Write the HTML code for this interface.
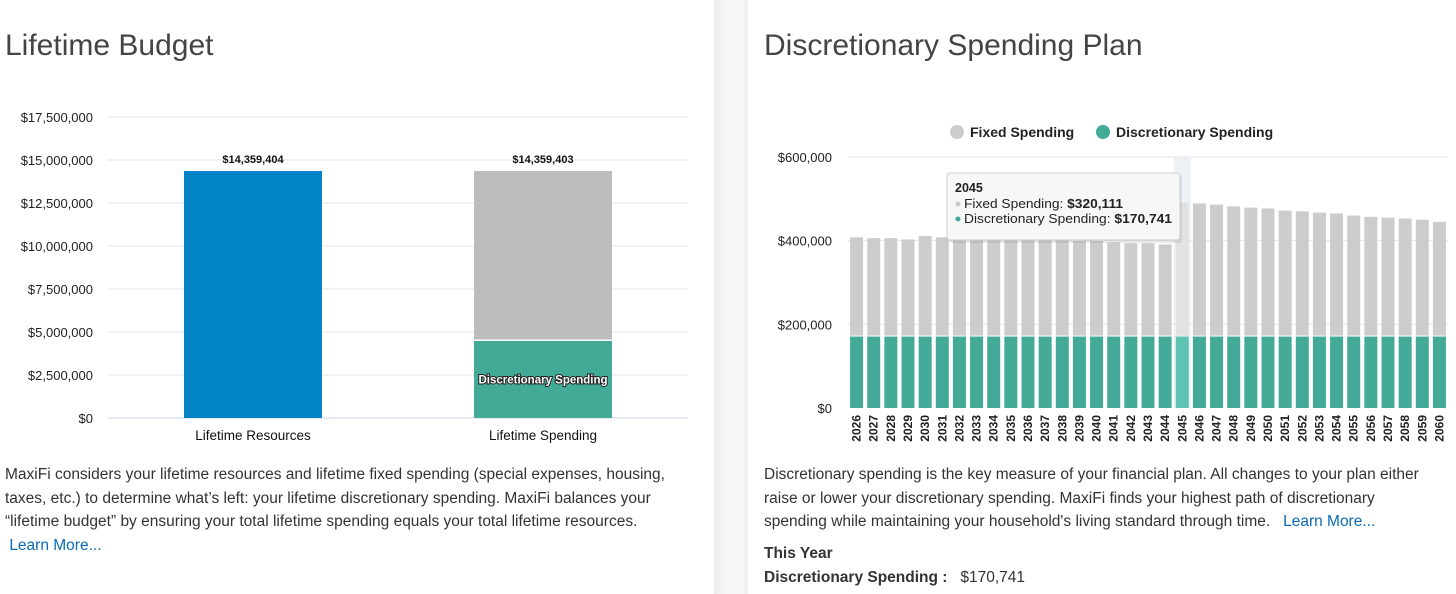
<!DOCTYPE html>
<html><head><meta charset="utf-8"><style>
body{margin:0;width:1456px;height:594px;overflow:hidden;background:#fff;font-family:"Liberation Sans",sans-serif;position:relative}
.divider{position:absolute;left:714px;top:0;width:34px;height:594px;background:linear-gradient(90deg,#ececec,#f7f7f7 30%,#f7f7f7 80%,#efefef)}
.title{position:absolute;top:29px;font-size:30px;color:#444;margin:0;font-weight:normal}
.para{position:absolute;font-size:15.5px;line-height:23.5px;color:#333;margin:0;white-space:nowrap}
.link{color:#0a6ab5}
svg{position:absolute;left:0;top:0}
</style></head><body>
<div class="divider"></div>
<h1 class="title" style="left:5px">Lifetime Budget</h1>
<h1 class="title" style="left:764px">Discretionary Spending Plan</h1>
<svg id="c1" width="714" height="460"></svg>
<svg id="c2" width="1456" height="460" style="pointer-events:none"></svg>
<p class="para" style="left:5px;top:463px">MaxiFi considers your lifetime resources and lifetime fixed spending (special expenses, housing,<br>taxes, etc.) to determine what’s left: your lifetime discretionary spending. MaxiFi balances your<br>“lifetime budget” by ensuring your total lifetime spending equals your total lifetime resources.<br>&nbsp;<span class="link">Learn More...</span></p>
<p class="para" style="left:764px;top:463px">Discretionary spending is the key measure of your financial plan. All changes to your plan either<br>raise or lower your discretionary spending. MaxiFi finds your highest path of discretionary<br>spending while maintaining your household's living standard through time. &nbsp;&nbsp;<span class="link">Learn More...</span></p>
<div class="para" style="left:764px;top:542px;font-weight:bold">This Year</div>
<div class="para" style="left:764px;top:566px"><b>Discretionary Spending :</b> &nbsp;&nbsp;$170,741</div>
<script>
const NS='http://www.w3.org/2000/svg';
function mk(p,t,a,txt){const e=document.createElementNS(NS,t);for(const k in a)e.setAttribute(k,a[k]);if(txt!=null)e.textContent=txt;p.appendChild(e);return e;}
// ---- Chart 1 data
const c1Categories=['Lifetime Resources','Lifetime Spending'];
const c1Resources=[14359404,0];
const c1Fixed=[0,9880000];
const c1Discretionary=[0,4479403];
const c1Totals=['$14,359,404','$14,359,403'];
const c1Ticks=[0,2500000,5000000,7500000,10000000,12500000,15000000,17500000];
const c1TickLabels=['$0','$2,500,000','$5,000,000','$7,500,000','$10,000,000','$12,500,000','$15,000,000','$17,500,000'];
// ---- Chart 2 data
const c2Years=[];for(let y=2026;y<=2060;y++)c2Years.push(String(y));
const c2Discretionary=[170741,170741,170741,170741,170741,170741,170741,170741,170741,170741,170741,170741,170741,170741,170741,170741,170741,170741,170741,170741,170741,170741,170741,170741,170741,170741,170741,170741,170741,170741,170741,170741,170741,170741,170741];
const c2Fixed=[237259,235259,235259,232259,240259,237259,237259,235259,235259,232259,232259,230259,230259,228259,228259,225259,223259,223259,220259,320111,318259,315259,311259,308259,306259,301259,299259,296259,294259,289259,286259,284259,282259,279259,274259];
const c2Ticks=[0,200000,400000,600000];
const c2TickLabels=['$0','$200,000','$400,000','$600,000'];
const c2Hover=19;

// Chart 1
(function(){
 const s=document.getElementById('c1');
 const x0=108,x1=688,yb=418,yt=117,max=17500000;
 const Y=v=>yb-(v/max)*(yb-yt);
 const band=(x1-x0)/c1Categories.length, bw=138;
 c1Ticks.forEach((t,i)=>{
  const g=mk(s,'line',{x1:x0,x2:x1,y1:Y(t),y2:Y(t),stroke:i==0?'#ccd6eb':'#e6e6e6','stroke-width':1});
  
  const l=mk(s,'text',{x:93,y:Y(t)+5,'text-anchor':'end','font-size':13,fill:'#222'},c1TickLabels[i]);
  
 });
 c1Categories.forEach((c,i)=>{
  const cx=x0+band*(i+0.5), bx=cx-bw/2;
  if(c1Resources[i]>0){const r=mk(s,'rect',{x:bx,y:Y(c1Resources[i]),width:bw,height:yb-Y(c1Resources[i]),fill:'#0284c7'});}
  if(c1Discretionary[i]>0){
   const d=c1Discretionary[i],f=c1Fixed[i];
   const r1=mk(s,'rect',{x:bx,y:Y(d),width:bw,height:yb-Y(d),fill:'#43aa98'});
   const r2=mk(s,'rect',{x:bx,y:Y(d+f),width:bw,height:Y(d)-Y(d+f)-1.5,fill:'#bcbcbc'});
   const tl=mk(s,'text',{x:cx,y:(Y(d)+yb)/2+4,'text-anchor':'middle','font-size':11.5,'font-weight':'bold',fill:'#fff',stroke:'#222','stroke-width':2,'paint-order':'stroke'},'Discretionary Spending');
   
  }
  const tot=c1Resources[i]+c1Fixed[i]+c1Discretionary[i];
  const vl=mk(s,'text',{x:cx,y:Y(tot)-8,'text-anchor':'middle','font-size':11,'font-weight':'bold',fill:'#111'},c1Totals[i]);
  
  const cl=mk(s,'text',{x:cx,y:440,'text-anchor':'middle','font-size':13.5,fill:'#111'},c);
  
 });
})();

// Chart 2
(function(){
 const s=document.getElementById('c2');
 const x0=848,x1=1448,yb=408,yt=157,max=600000;
 const Y=v=>yb-(v/max)*(yb-yt);
 const pitch=(x1-x0)/c2Years.length,bw=13;
 const h=mk(s,'rect',{x:x0+pitch*c2Hover,y:yt,width:pitch,height:yb-yt,fill:'#eef1f6'});
 
 c2Ticks.forEach((t,i)=>{
  if(i>0){const g=mk(s,'line',{x1:x0,x2:x1,y1:Y(t),y2:Y(t),stroke:'#e6e6e6'});}
  const l=mk(s,'text',{x:832,y:Y(t)+5,'text-anchor':'end','font-size':13,fill:'#222'},c2TickLabels[i]);
  
 });
 c2Years.forEach((yr,i)=>{
  const cx=x0+pitch*(i+0.5),bx=cx-bw/2,d=c2Discretionary[i],f=c2Fixed[i],hv=i==c2Hover;
  const r1=mk(s,'rect',{x:bx,y:Y(d),width:bw,height:yb-Y(d),fill:hv?'#5cc4b0':'#43aa98'});
  
  const r2=mk(s,'rect',{x:bx,y:Y(d+f),width:bw,height:Y(d)-Y(d+f)-1,fill:hv?'#e2e2e2':'#cccccc'});
  
  const l=mk(s,'text',{x:0,y:0,'text-anchor':'end','font-size':12,'font-weight':'bold',fill:'#222',transform:`translate(${cx+4},${415}) rotate(-90)`},yr);
  
 });
 // legend
 const lg=mk(s,'g',{});
 const c1=mk(lg,'circle',{cx:957,cy:132,r:7,fill:'#cccccc'});
 const t1=mk(lg,'text',{x:970,y:137,'font-size':14,'font-weight':'bold',fill:'#222'},'Fixed Spending');
 const c2=mk(lg,'circle',{cx:1103,cy:132,r:7,fill:'#43aa98'});
 const t2=mk(lg,'text',{x:1116,y:137,'font-size':14,'font-weight':'bold',fill:'#222'},'Discretionary Spending');
 // tooltip
 const tg=mk(s,'g',{});
 mk(tg,'rect',{x:949,y:175,width:233,height:68,fill:'#000',opacity:0.08,rx:3});
 mk(tg,'rect',{x:947,y:173,width:233,height:67,fill:'#f7f7f7',stroke:'#cfcfcf',rx:3});
 mk(tg,'text',{x:955,y:192,'font-size':12.5,'font-weight':'bold',fill:'#222'},c2Years[c2Hover]);
 mk(tg,'circle',{cx:958,cy:204,r:2.5,fill:'#cccccc'});
 const fmt=v=>'$'+v.toLocaleString('en-US');
 const tt1=mk(tg,'text',{x:964,y:208,'font-size':12.5,fill:'#222',textLength:159,lengthAdjust:'spacingAndGlyphs'},'Fixed Spending: ');
 mk(tt1,'tspan',{'font-weight':'bold'},fmt(c2Fixed[c2Hover]));
 mk(tg,'circle',{cx:958,cy:219,r:2.5,fill:'#43aa98'});
 const tt2=mk(tg,'text',{x:964,y:223,'font-size':12.5,fill:'#222',textLength:208,lengthAdjust:'spacingAndGlyphs'},'Discretionary Spending: ');
 mk(tt2,'tspan',{'font-weight':'bold'},fmt(c2Discretionary[c2Hover]));
})();
</script>
</body></html>
